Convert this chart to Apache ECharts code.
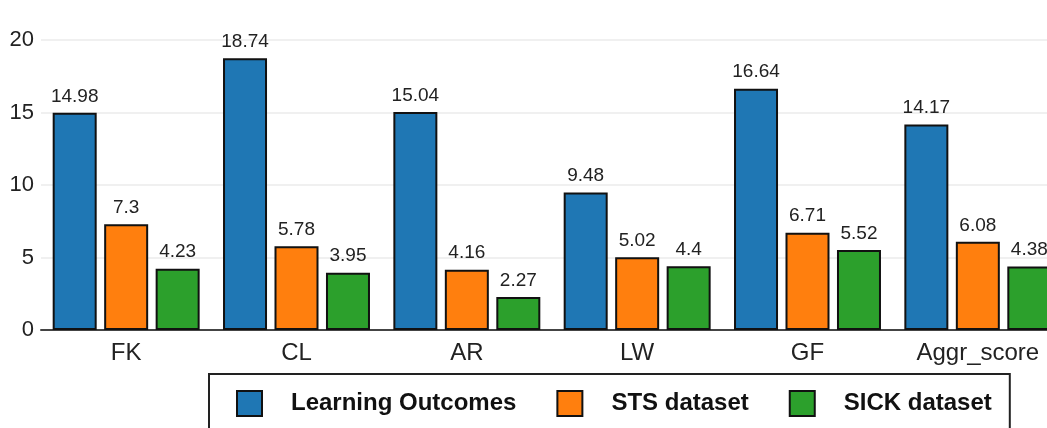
<!DOCTYPE html>
<html>
<head>
<meta charset="utf-8">
<script src="https://cdn.jsdelivr.net/npm/echarts@6/dist/echarts.min.js"></script>
<style>
  html, body { margin: 0; padding: 0; overflow: hidden; background: #fff; }
  #chart { width: 1064px; height: 428px; }
</style>
</head>
<body>
<div id="chart"></div>
<script>
var categories = ['FK', 'CL', 'AR', 'LW', 'GF', 'Aggr_score']
var learningOutcomes = [14.98, 18.74, 15.04, 9.48, 16.64, 14.17]
var stsDataset = [7.3, 5.78, 4.16, 5.02, 6.71, 6.08]
var sickDataset = [4.23, 3.95, 2.27, 4.4, 5.52, 4.38]
var seriesNames = ['Learning Outcomes', 'STS dataset', 'SICK dataset']
var colors = ['#1f77b4', '#ff7f0e', '#2ca02c']

var font = 'Liberation Sans, Arial, sans-serif'

function makeSeries(name, data, color) {
  return {
    name: name,
    type: 'bar',
    data: data,
    barWidth: 44,
    barGap: '17%',
    itemStyle: { color: color, borderColor: '#111', borderWidth: 2 },
    label: {
      show: true,
      position: 'top',
      distance: 7,
      fontSize: 19,
      color: '#222',
      fontFamily: font
    }
  }
}

var chart = echarts.init(document.getElementById('chart'))
chart.setOption({
  animation: false,
  textStyle: { fontFamily: font },
  color: colors,
  grid: { left: 41, right: 1, top: 40, bottom: 98 },
  legend: {
    left: 209,
    top: 374,
    orient: 'horizontal',
    icon: 'rect',
    itemWidth: 25,
    itemHeight: 25,
    itemGap: 40,
    borderColor: '#222',
    borderWidth: 2,
    padding: [16, 18, 30, 27],
    itemStyle: { borderColor: '#111', borderWidth: 2 },
    textStyle: {
      fontSize: 24,
      fontWeight: 'bold',
      color: '#111',
      fontFamily: font,
      padding: [0, 0, 0, 24]
    },
    data: seriesNames
  },
  xAxis: {
    type: 'category',
    data: categories,
    axisLine: { lineStyle: { color: '#444', width: 2 } },
    axisTick: { show: false },
    axisLabel: { fontSize: 24, color: '#222', margin: 11 }
  },
  yAxis: {
    type: 'value',
    min: 0,
    max: 20,
    interval: 5,
    axisLine: { show: false },
    axisTick: { show: false },
    axisLabel: { fontSize: 22, color: '#222', margin: 7 },
    splitLine: { lineStyle: { color: '#ebebeb', width: 1.5 } }
  },
  series: [
    makeSeries(seriesNames[0], learningOutcomes, colors[0]),
    makeSeries(seriesNames[1], stsDataset, colors[1]),
    makeSeries(seriesNames[2], sickDataset, colors[2])
  ]
})
</script>
</body>
</html>
